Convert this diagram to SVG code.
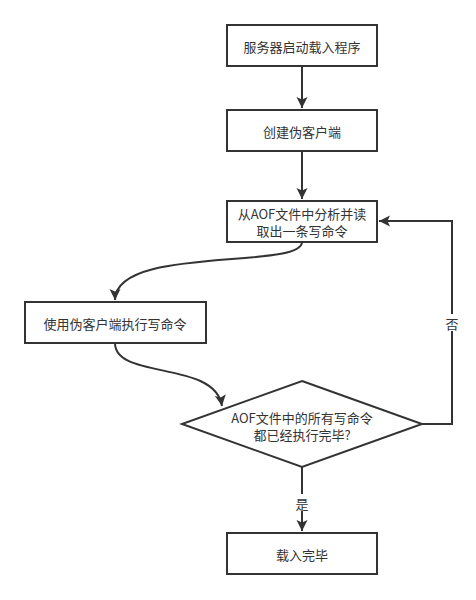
<svg xmlns="http://www.w3.org/2000/svg" width="476" height="600" viewBox="0 0 476 600">
<style>
.n{fill:#fff;stroke:#333;stroke-width:2}
.e{fill:none;stroke:#333;stroke-width:2}
text{font-family:"Noto Sans CJK SC","Liberation Sans",sans-serif;font-size:13px;fill:#333;text-anchor:middle;dominant-baseline:central}
</style>
<defs>
<marker id="a" markerUnits="userSpaceOnUse" markerWidth="12" markerHeight="12" viewBox="0 0 12 12" refX="11" refY="6" orient="auto">
<path d="M0,0.5 L11,6 L0,11.5 L2.5,6 z" fill="#333"/>
</marker>
</defs>
<rect width="476" height="600" fill="#fff"/>
<g id="edges">
<path class="e" d="M302 66 V108" marker-end="url(#a)"/>
<path class="e" d="M302 151 V199" marker-end="url(#a)"/>
<path class="e" d="M302 242 C302 270,115 245,115 300" marker-end="url(#a)"/>
<path class="e" d="M115 343 C115 380,215 360,222 406" marker-end="url(#a)"/>
<path class="e" d="M302 467 V531" marker-end="url(#a)"/>
<path class="e" d="M422 424 H452 V221 H379" marker-end="url(#a)"/>
<rect x="294" y="494" width="16" height="17" fill="#fff"/>
<text x="302" y="503">是</text>
<rect x="444" y="314" width="16" height="17" fill="#fff"/>
<text x="452" y="323">否</text>
</g>
<g id="n1"><rect class="n" x="227" y="25" width="150" height="41"/><text x="302" y="46">服务器启动载入程序</text></g>
<g id="n2"><rect class="n" x="227" y="110" width="150" height="41"/><text x="302" y="131">创建伪客户端</text></g>
<g id="n3"><rect class="n" x="227" y="201" width="150" height="41"/><text x="302" y="213">从AOF文件中分析并读</text><text x="302" y="230">取出一条写命令</text></g>
<g id="n4"><rect class="n" x="25" y="302" width="181" height="41"/><text x="115" y="323">使用伪客户端执行写命令</text></g>
<g id="n5"><path class="n" d="M302 381 L422 424 L302 467 L182 424 Z"/><text x="302" y="417">AOF文件中的所有写命令</text><text x="302" y="434">都已经执行完毕?</text></g>
<g id="n6"><rect class="n" x="227" y="533" width="150" height="41"/><text x="302" y="554">载入完毕</text></g>
</svg>
